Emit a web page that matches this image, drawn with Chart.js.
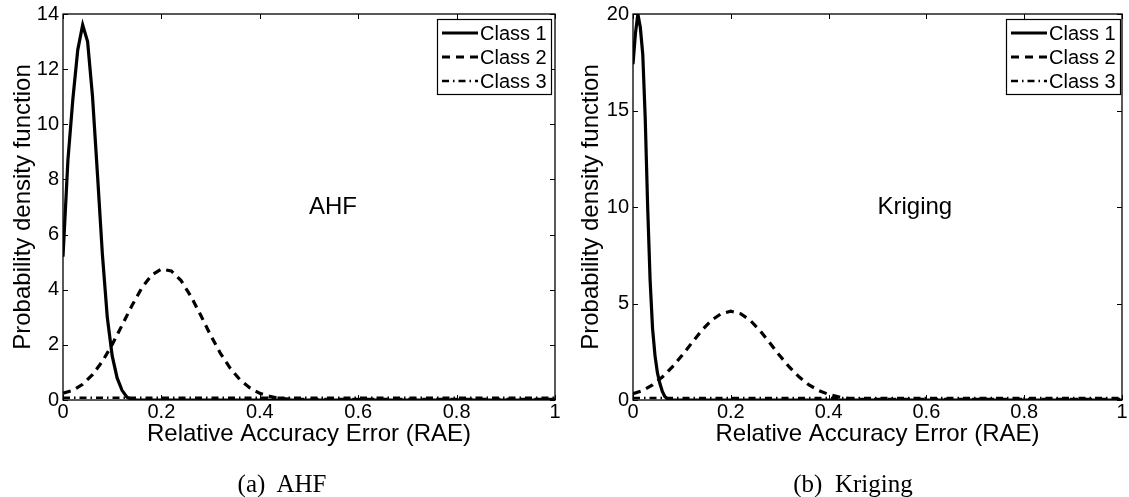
<!DOCTYPE html>
<html><head><meta charset="utf-8">
<script src="https://cdn.jsdelivr.net/npm/chart.js@4.4.0/dist/chart.umd.min.js"></script>
<style>
html,body{margin:0;padding:0;background:#fff;}
body{width:1129px;height:497px;position:relative;overflow:hidden;}
.wrap{position:absolute;top:0;height:497px;}
.cap{position:absolute;font-family:"Liberation Serif",serif;font-size:25px;white-space:pre;transform:translate(-50%,-50%);color:#000;}
</style></head><body>
<div class="wrap" style="left:0;width:560px"><canvas id="c1" width="560" height="497"></canvas></div>
<div class="wrap" style="left:570px;width:559px"><canvas id="c2" width="559" height="497"></canvas></div>
<div class="cap" style="left:282px;top:484px">(a)  AHF</div>
<div class="cap" style="left:853px;top:484px">(b)  Kriging</div>
<script>
// ---- data ----
const seriesNames = ['Class 1', 'Class 2', 'Class 3'];
const xTitle = 'Relative Accuracy Error (RAE)';
const yTitle = 'Probability density function';

// (a) AHF
const ahfClass1X = [0,0.01,0.02,0.03,0.04,0.05,0.06,0.07,0.08,0.09,0.10,0.11,0.12,0.13,0.14,0.15,1];
const ahfClass1Y = [5.2,8.7,10.9,12.7,13.6,13.0,11.0,8.2,5.3,3.0,1.6,0.8,0.35,0.1,0.02,0,0];
const ahfClass2X = [0,0.02,0.04,0.06,0.08,0.10,0.12,0.14,0.16,0.18,0.20,0.22,0.24,0.26,0.28,0.30,0.32,0.34,0.36,0.38,0.40,0.42,0.44,0.46,0.48,0.6,0.8,1];
const ahfClass2Y = [0.25,0.35,0.57,0.92,1.40,2.01,2.71,3.42,4.06,4.53,4.75,4.68,4.33,3.76,3.07,2.35,1.69,1.15,0.73,0.44,0.24,0.13,0.06,0.03,0.02,0.02,0.02,0.02];
const ahfClass3X = [0,0.1,0.2,0.3,0.4,0.5,0.6,0.7,0.8,0.9,1];
const ahfClass3Y = [0.08,0.08,0.08,0.08,0.08,0.08,0.08,0.08,0.08,0.08,0.08];

// (b) Kriging
const krgClass1X = [0,0.005,0.01,0.015,0.02,0.025,0.03,0.035,0.04,0.045,0.05,0.055,0.06,0.065,0.07,0.075,0.08,1];
const krgClass1Y = [17.4,19.0,20.0,19.3,17.9,14.6,10.0,6.2,3.7,2.3,1.4,0.85,0.45,0.18,0.07,0.02,0,0];
const krgClass2X = [0,0.02,0.04,0.06,0.08,0.10,0.12,0.14,0.16,0.18,0.20,0.22,0.24,0.26,0.28,0.30,0.32,0.34,0.36,0.38,0.40,0.42,0.44,0.46,0.48,0.6,0.8,1];
const krgClass2Y = [0.33,0.49,0.78,1.19,1.70,2.30,2.95,3.59,4.12,4.47,4.60,4.47,4.12,3.59,2.95,2.30,1.70,1.19,0.78,0.49,0.29,0.16,0.09,0.04,0.03,0.03,0.03,0.03];
const krgClass3X = [0,0.1,0.2,0.3,0.4,0.5,0.6,0.7,0.8,0.9,1];
const krgClass3Y = [0.1,0.1,0.1,0.1,0.1,0.1,0.1,0.1,0.1,0.1,0.1];

// ---- styles ----
const FONT = '"Liberation Sans", Arial, sans-serif';
const lineStyles = [
  {borderWidth: 3.2, borderDash: []},
  {borderWidth: 3.2, borderDash: [8, 6]},
  {borderWidth: 2.5, borderDash: [7, 4, 1.5, 4]}
];

function pts(xs, ys) { return xs.map((x, i) => ({x: x, y: ys[i]})); }

const framePlugin = {
  id: 'frame',
  afterDraw(chart, args, o) {
    const ctx = chart.ctx, a = chart.chartArea;
    const xs = chart.scales.x, ys = chart.scales.y;
    ctx.save();
    ctx.fillStyle = '#000';
    ctx.font = '24px ' + FONT;
    ctx.textAlign = 'left';
    ctx.textBaseline = 'middle';
    ctx.fillText(o.note, xs.getPixelForValue(o.noteX), ys.getPixelForValue(o.noteY));
    ctx.strokeStyle = '#000';
    ctx.lineWidth = 1.3;
    ctx.setLineDash([]);
    ctx.strokeRect(a.left, a.top, a.right - a.left, a.bottom - a.top);
    ctx.lineWidth = 1;
    const tl = 5;
    xs.ticks.forEach(t => {
      const p = Math.round(xs.getPixelForValue(t.value)) + 0.5;
      ctx.beginPath();
      ctx.moveTo(p, a.bottom); ctx.lineTo(p, a.bottom - tl);
      ctx.moveTo(p, a.top); ctx.lineTo(p, a.top + tl);
      ctx.stroke();
    });
    ys.ticks.forEach(t => {
      const p = Math.round(ys.getPixelForValue(t.value)) + 0.5;
      ctx.beginPath();
      ctx.moveTo(a.left, p); ctx.lineTo(a.left + tl, p);
      ctx.moveTo(a.right, p); ctx.lineTo(a.right - tl, p);
      ctx.stroke();
    });
    const w = 114, h = 75;
    const bx = a.right - o.legInset - w, by = a.top + 5;
    ctx.fillStyle = '#fff';
    ctx.fillRect(bx, by, w, h);
    ctx.lineWidth = 1.2;
    ctx.strokeStyle = '#000';
    ctx.strokeRect(bx + 0.5, by + 0.5, w, h);
    ctx.font = '20px ' + FONT;
    ctx.textAlign = 'left';
    ctx.textBaseline = 'middle';
    chart.data.datasets.forEach((ds, i) => {
      const cy = by + 14 + i * 24;
      ctx.beginPath();
      ctx.lineWidth = ds.borderWidth;
      ctx.setLineDash(ds.borderDash);
      ctx.moveTo(bx + 5, cy); ctx.lineTo(bx + 41, cy);
      ctx.stroke();
      ctx.setLineDash([]);
      ctx.fillStyle = '#000';
      ctx.fillText(ds.label, bx + 43, cy + 1);
    });
    ctx.restore();
  }
};

function makeChart(id, series, yMax, yStep, note, noteX, noteY, padRight, yTitlePad, legInset) {
  const datasets = series.map((s, i) => ({
    label: seriesNames[i],
    data: pts(s[0], s[1]),
    borderColor: '#000',
    backgroundColor: '#000',
    borderWidth: lineStyles[i].borderWidth,
    borderDash: lineStyles[i].borderDash,
    pointRadius: 0,
    tension: 0,
    fill: false
  }));
  return new Chart(document.getElementById(id), {
    type: 'line',
    data: {datasets: datasets},
    plugins: [framePlugin],
    options: {
      responsive: false,
      animation: false,
      devicePixelRatio: 1,
      layout: {padding: {top: 14, right: padRight, bottom: 37, left: 0}},
      plugins: {
        legend: {display: false},
        tooltip: {enabled: false},
        frame: {note: note, noteX: noteX, noteY: noteY, legInset: legInset}
      },
      scales: {
        x: {
          type: 'linear', min: 0, max: 1,
          grid: {display: false, drawTicks: false},
          border: {display: false},
          ticks: {stepSize: 0.2, padding: 2, color: '#000', maxRotation: 0, autoSkip: false,
                  font: {family: FONT, size: 20, lineHeight: 1},
                  callback: v => String(Math.round(v * 10) / 10)},
          title: {display: true, text: xTitle, color: '#000',
                  font: {family: FONT, size: 24, lineHeight: 1}, padding: {top: 0, bottom: 14}},
          afterFit(s) { s.height = 60; s.paddingLeft = 0; s.paddingRight = 0; }
        },
        y: {
          type: 'linear', min: 0, max: yMax,
          grid: {display: false, drawTicks: false},
          border: {display: false},
          ticks: {stepSize: yStep, padding: 4, color: '#000',
                  font: {family: FONT, size: 20, lineHeight: 1}},
          title: {display: true, text: yTitle, color: '#000',
                  font: {family: FONT, size: 24, lineHeight: 1}, padding: {top: yTitlePad, bottom: 0}},
          afterFit(s) { s.width = 63; s.paddingTop = 0; s.paddingBottom = 0; }
        }
      }
    }
  });
}

makeChart('c1', [[ahfClass1X, ahfClass1Y], [ahfClass2X, ahfClass2Y], [ahfClass3X, ahfClass3Y]],
          14, 2, 'AHF', 0.5, 7, 5, 11, 4);
makeChart('c2', [[krgClass1X, krgClass1Y], [krgClass2X, krgClass2Y], [krgClass3X, krgClass3Y]],
          20, 5, 'Kriging', 0.5, 10, 7, 9, 2);
</script>
</body></html>
